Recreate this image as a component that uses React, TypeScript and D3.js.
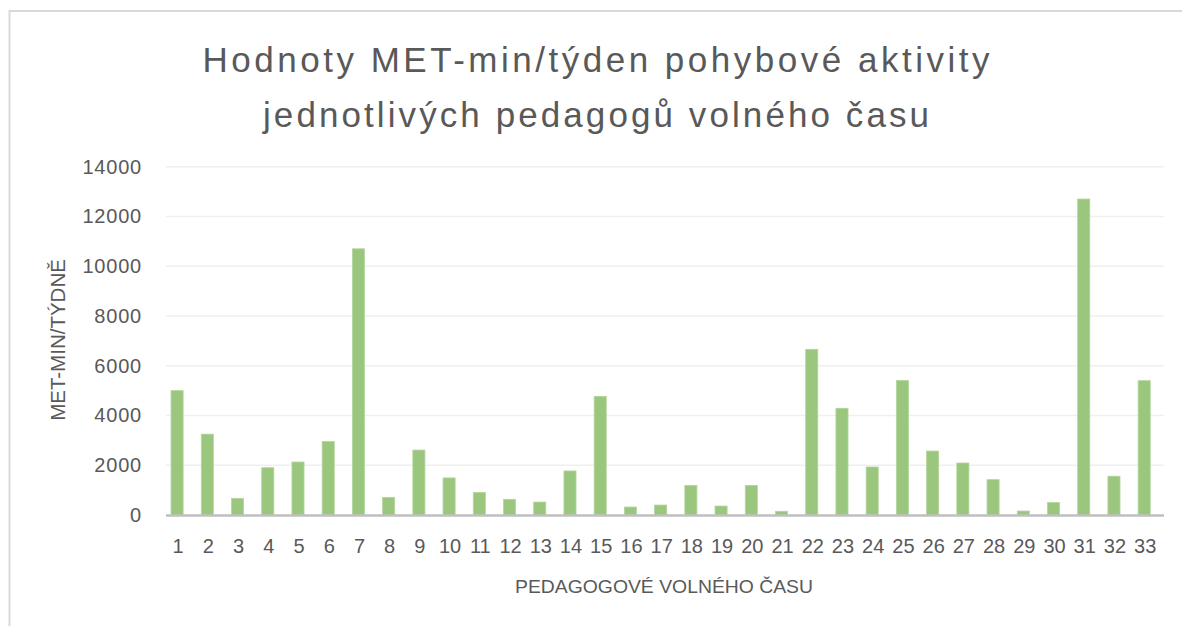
import React from "react";
import * as d3 from "d3";

const categories: string[] = Array.from({ length: 33 }, (_, i) => String(i + 1));
const values: number[] = [
  5000, 3250, 670, 1900, 2130, 2960, 10700, 710, 2610, 1490, 910, 630, 520, 1770, 4770, 320, 400,
  1190, 360, 1190, 150, 6660, 4290, 1930, 5410, 2570, 2090, 1420, 160, 500, 12700, 1560, 5400,
];
const yTicks: number[] = [0, 2000, 4000, 6000, 8000, 10000, 12000, 14000];
const titleLines: string[] = [
  "Hodnoty MET-min/týden pohybové aktivity",
  "jednotlivých pedagogů volného času",
];
const yAxisTitle = "MET-MIN/TÝDNĚ";
const xAxisTitle = "PEDAGOGOVÉ VOLNÉHO ČASU";

const W = 1182;
const H = 626;
const FONT = "'Liberation Sans', Arial, Helvetica, sans-serif";
const TEXT = "#595959";

export default function App() {
  const y = d3.scaleLinear().domain([0, 14000]).range([515, 166.7]);
  const x = d3
    .scaleBand<string>()
    .domain(categories)
    .range([162, 1159.3])
    .paddingInner(0.6)
    .paddingOuter(0.3);
  const gridX0 = 166;
  const gridX1 = 1164;

  return (
    <svg
      width={W}
      height={H}
      style={{ position: "absolute", left: 0, top: 0, display: "block", background: "#fff" }}
      fontFamily={FONT}
    >
      <rect x={0} y={0} width={W} height={H} fill="#fff" />
      <path d={`M9.5,${H} V11 H${W}`} fill="none" stroke="#d9d9d9" strokeWidth={2} />

      {titleLines.map((t, i) => (
        <text
          key={i}
          x={596}
          y={72 + i * 54.5}
          textAnchor="middle"
          fontSize={35}
          fill={TEXT}
          textLength={i === 0 ? 787 : 666}
          lengthAdjust="spacing"
        >
          {t}
        </text>
      ))}

      {yTicks.map((t) => (
        <g key={t}>
          {t !== 0 && (
            <line x1={gridX0} x2={gridX1} y1={y(t)} y2={y(t)} stroke="#efefef" strokeWidth={1.5} />
          )}
          <text
            x={142}
            y={y(t) + 7}
            textAnchor="end"
            fontSize={20}
            fill={TEXT}
            letterSpacing={0.8}
          >
            {t}
          </text>
        </g>
      ))}

      {values.map((v, i) => {
        const c = categories[i];
        const x0 = x(c) as number;
        return (
          <rect
            key={c}
            x={x0}
            y={y(v)}
            width={x.bandwidth()}
            height={y(0) - y(v)}
            fill="#9BC67E"
            stroke="#b3d69c"
            strokeWidth={0.8}
          />
        );
      })}

      <line x1={gridX0} x2={gridX1} y1={y(0) + 0.5} y2={y(0) + 0.5} stroke="#bfbfbf" strokeWidth={2.5} />

      {categories.map((c) => (
        <text
          key={c}
          x={(x(c) as number) + x.bandwidth() / 2 + 1}
          y={553}
          textAnchor="middle"
          fontSize={20}
          fill={TEXT}
        >
          {c}
        </text>
      ))}

      <text
        transform={`translate(65,340) rotate(-90)`}
        textAnchor="middle"
        fontSize={20.5}
        fill={TEXT}
      >
        {yAxisTitle}
      </text>

      <text
        x={664}
        y={593}
        textAnchor="middle"
        fontSize={18.5}
        fill={TEXT}
        textLength={298}
        lengthAdjust="spacingAndGlyphs"
      >
        {xAxisTitle}
      </text>
    </svg>
  );
}
